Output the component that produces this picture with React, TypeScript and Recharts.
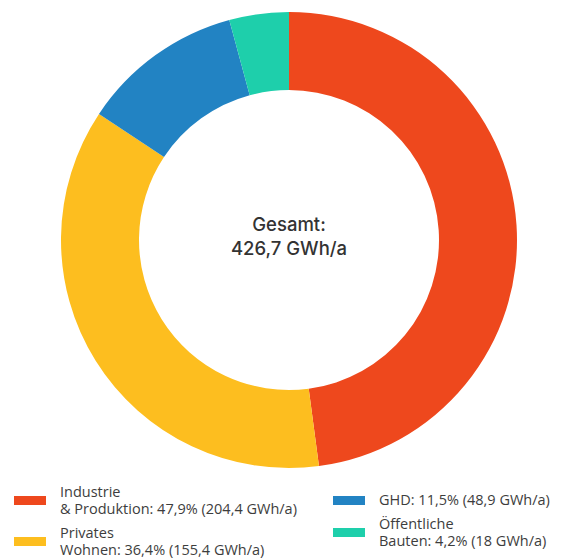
import { Cell, Label, Pie, PieChart } from 'recharts'

const categories = ['Industrie & Produktion', 'Privates Wohnen', 'GHD', 'Öffentliche Bauten']
const values = [204.4, 155.4, 48.9, 18]
const shares = ['47,9%', '36,4%', '11,5%', '4,2%']
const legendFirst = ['Industrie', 'Privates', '', 'Öffentliche']
const legendSecond = ['& Produktion', 'Wohnen', 'GHD', 'Bauten']
const valueLabels = ['204,4', '155,4', '48,9', '18']
const colors = ['#EE481D', '#FDBE1F', '#2283C3', '#1ECFAB']
const totalLabel = ['Gesamt:', '426,7 GWh/a']

const FONT = '"Open Sans", "Noto Sans", sans-serif'
const CENTER_FONT = 'Inter, "Open Sans", sans-serif'

const data = categories.map((name, i) => ({ name, value: values[i] }))

export default function App() {
  return (
    <div style={{ position: 'fixed', top: 0, left: 0, width: 569, height: 559, background: '#fff', fontFamily: FONT }}>
      <PieChart width={569} height={478} margin={{ top: 0, right: 0, bottom: 0, left: 0 }}>
        <Pie
          data={data}
          dataKey="value"
          nameKey="name"
          cx={289}
          cy={240}
          innerRadius={150}
          outerRadius={228}
          startAngle={90}
          endAngle={-270}
          stroke="none"
          isAnimationActive={false}
        >
          {data.map((d, i) => (
            <Cell key={d.name} fill={colors[i]} />
          ))}
          <Label position="center" content={CenterLabel} />
        </Pie>
      </PieChart>
      <LegendBlock />
    </div>
  )
}

function CenterLabel(props: any) {
  const { viewBox } = props
  const cx = viewBox?.cx ?? 289
  const cy = viewBox?.cy ?? 240
  return (
    <g>
      <text x={cx} y={cy - 9} textAnchor="middle" fontSize={18.5} fontWeight={500} fontFamily={CENTER_FONT} fill="#333">
        {totalLabel[0]}
      </text>
      <text x={cx} y={cy + 15} textAnchor="middle" fontSize={18.5} fontWeight={500} fontFamily={CENTER_FONT} fill="#333">
        {totalLabel[1]}
      </text>
    </g>
  )
}

function LegendBlock() {
  const columns = [
    { left: 14, items: [0, 1] },
    { left: 333, items: [2, 3] },
  ]
  return (
    <div style={{ position: 'absolute', left: 0, top: 482, width: 569, height: 77 }}>
      {columns.map(col => (
        <div
          key={col.left}
          style={{
            position: 'absolute',
            left: col.left,
            top: 0,
            height: 77,
            display: 'flex',
            flexDirection: 'column',
            justifyContent: 'center',
            gap: 6,
          }}
        >
          {col.items.map(i => (
            <div key={i} style={{ display: 'flex', alignItems: 'center' }}>
              <div style={{ width: 32, height: 9, background: colors[i], marginRight: 14, flexShrink: 0 }} />
              <div style={{ fontSize: 14.5, lineHeight: '17.5px', color: '#3d3d3d', whiteSpace: 'nowrap' }}>
                {legendFirst[i] && <div>{legendFirst[i]}</div>}
                <div>
                  {legendSecond[i]}: {shares[i]} ({valueLabels[i]} GWh/a)
                </div>
              </div>
            </div>
          ))}
        </div>
      ))}
    </div>
  )
}
